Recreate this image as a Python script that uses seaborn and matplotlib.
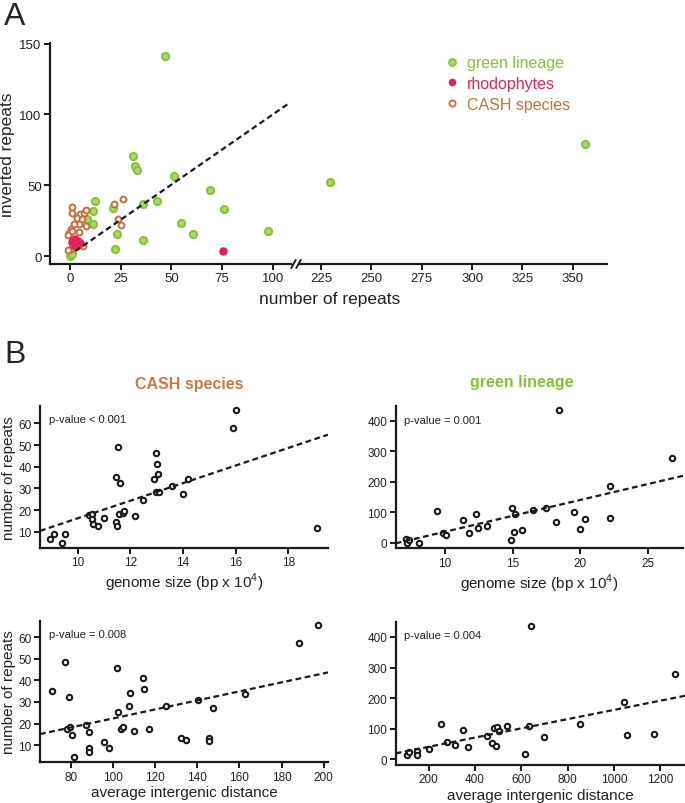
import numpy as np
import pandas as pd
import matplotlib.pyplot as plt
import seaborn as sns
from matplotlib.lines import Line2D

sns.set_theme(style='ticks')
plt.rcParams['font.family'] = ['Liberation Sans', 'DejaVu Sans']
plt.rcParams['mathtext.fontset'] = 'custom'
plt.rcParams['mathtext.rm'] = 'Liberation Sans'

# ============================================================
# DATA — panel A (number of repeats vs inverted repeats)
# ============================================================

green_reps = [46.9, 30.9, 31.8, 33.2, 51.0, 69.0, 42.7, 35.8, 12.0, 11.0, 11.0, 21.0,
              75.9, 54.8, 22.9, 60.7, 97.7, 36.0, 21.9, 8.1, 0.0, 1.0, 229.3, 355.9]
green_inv = [141.3, 70.6, 63.6, 61.0, 56.5, 46.4, 39.0, 36.5, 38.6, 31.8, 22.4, 34.1,
             33.4, 23.3, 15.3, 15.3, 17.4, 11.3, 5.2, 25.9, 0.0, 1.5, 52.3, 79.4]

rhodo_reps = [1.0, 2.5, 4.0, 2.0, 3.5, 5.0, 1.5, 75.6]
rhodo_inv = [10.0, 12.0, 10.5, 8.0, 7.5, 9.0, 11.5, 3.3]

cash_reps = [1.0, 1.0, 4.8, 6.6, 7.8, 3.3, 5.8, 4.5, 7.6, 2.1, 0.2, -0.5, -1.3, 4.5,
             0.3, 1.6, 6.1, -1.0, 21.8, 25.9, 23.4, 25.2, 0.8]
cash_inv = [35.0, 30.7, 29.8, 30.7, 32.6, 27.0, 26.5, 23.0, 21.4, 22.8, 19.0, 16.0, 14.8,
            16.7, 4.9, 7.3, 7.3, 4.4, 36.6, 40.5, 26.0, 22.0, 17.5]

# regression line in panel A (slope, intercept, x range)
fit_a = (0.99, 1.0)
fit_a_range = (2.5, 108.0)

# ============================================================
# DATA — panel B
# ============================================================

cash_genome = [8.95, 9.1, 9.42, 9.52, 10.44, 10.53, 10.53, 10.57, 10.76, 11.01, 11.47,
               11.53, 11.47, 11.5, 11.62, 11.57, 11.73, 11.76, 12.16, 12.49, 12.9,
               12.97, 13.0, 13.05, 12.97, 13.1, 13.59, 13.99, 14.18, 15.91, 16.01, 19.09]
cash_genome_reps = [6.6, 8.9, 4.8, 8.9, 17.7, 18.2, 15.8, 13.5, 12.7, 16.5, 35.4,
                    49.2, 14.6, 12.7, 32.3, 18.2, 18.5, 19.5, 17.2, 24.6, 34.3,
                    46.2, 41.3, 36.5, 28.2, 28.2, 31.2, 27.3, 34.2, 58.0, 66.2, 11.7]

green_genome = [7.13, 7.17, 7.37, 8.08, 9.41, 9.83, 10.07, 11.35, 11.77, 12.33, 12.41,
                13.1, 14.86, 14.94, 15.16, 15.14, 15.68, 16.49, 17.49, 18.2, 18.4,
                19.56, 19.98, 20.32, 22.24, 22.21, 26.78]
green_genome_reps = [13, 0, 10, 0, 105, 34, 27, 75, 33, 96, 49,
                     55, 10, 116, 95, 37, 42, 109, 116, 70, 434,
                     101, 47, 80, 187, 82, 279]

cash_igd = [71.3, 77.3, 79.4, 78.1, 79.7, 80.5, 81.6, 87.4, 88.5, 88.7, 88.8, 95.6,
            98.0, 101.8, 102.6, 107.8, 108.0, 103.7, 105.0, 110.2, 114.1, 114.9,
            117.1, 125.2, 132.3, 134.5, 140.2, 145.4, 145.6, 147.6, 162.8, 188.2, 197.4]
cash_igd_reps = [35.1, 48.7, 32.3, 17.4, 18.5, 14.6, 4.4, 19.4, 16.2, 8.8, 6.6, 11.5,
                 8.5, 45.9, 25.2, 28.3, 34.1, 17.3, 18.2, 16.3, 41.1, 36.0,
                 17.3, 28.1, 13.4, 12.2, 31.0, 13.3, 12.0, 27.0, 33.8, 57.5, 65.6]

green_igd = [106, 117, 148, 152, 202, 255, 281, 313, 347, 370, 452, 473, 480,
             491, 496, 503, 537, 616, 635, 642, 699, 855, 1043, 1057, 1174, 1264]
green_igd_reps = [14, 23, 28, 13, 34, 115, 57, 48, 95, 39, 77, 53, 101,
                  44, 107, 93, 110, 16, 108, 435, 73, 114, 189, 80, 82, 280]

# fitted lines (slope, intercept)
fit_cash_genome = (4.06, -24.4)
fit_green_genome = (10.4, -67.3)
fit_cash_igd = (0.2095, 1.38)
fit_green_igd = (0.1508, 10.85)

p_values = ['p-value < 0.001', 'p-value = 0.001', 'p-value = 0.008', 'p-value = 0.004']

# ============================================================
# STYLE
# ============================================================

GREEN = '#86c23a'
GREEN_FACE = '#a9d86a'
RED = '#e0245a'
BROWN = '#c5703b'
CASH_TITLE = '#c8794a'

W, H = 685, 804


def rect(left, top, right, bottom):
    return [left / W, 1 - bottom / H, (right - left) / W, (bottom - top) / H]


def style_axis(ax):
    sns.despine(ax=ax)
    for s in ['left', 'bottom']:
        ax.spines[s].set_linewidth(1.6)
        ax.spines[s].set_color('#1a1a1a')
    ax.tick_params(direction='out', length=4, width=1.4, labelsize=8.5,
                   color='#1a1a1a', labelcolor='#222222', pad=2)


fig = plt.figure(figsize=(W / 100, H / 100), dpi=100)

# ============================================================
# PANEL A — broken x axis made of two axes
# ============================================================

ax_a1 = fig.add_axes(rect(50, 44, 295, 265))
ax_a2 = fig.add_axes(rect(295, 44, 607, 265), sharey=ax_a1)

for ax in (ax_a1, ax_a2):
    sns.scatterplot(x=green_reps, y=green_inv, ax=ax, s=27, color=GREEN_FACE,
                    edgecolor=GREEN, linewidth=1.4, zorder=3, legend=False)
    sns.scatterplot(x=cash_reps, y=cash_inv, ax=ax, s=18, color='white',
                    edgecolor=BROWN, linewidth=1.4, zorder=4, legend=False)
    sns.scatterplot(x=rhodo_reps, y=rhodo_inv, ax=ax, s=38, color=RED,
                    linewidth=0, zorder=5, legend=False)
    style_axis(ax)

xs = np.array(fit_a_range)
sns.lineplot(x=xs, y=fit_a[0] * xs + fit_a[1], ax=ax_a1, color='#1a1a1a',
             lw=1.6, dashes=False, zorder=6)
ax_a1.lines[-1].set_dashes([2.6, 1.6])

ax_a1.set_xlim(-10, 111)
ax_a2.set_xlim(212, 367)
ax_a1.set_ylim(-5.6, 150.5)
ax_a1.set_xticks([0, 25, 50, 75, 100])
ax_a2.set_xticks([225, 250, 275, 300, 325, 350])
ax_a1.set_yticks([0, 50, 100, 150])
ax_a1.tick_params(labelsize=9.5)
ax_a2.tick_params(labelsize=9.5)
ax_a2.spines['left'].set_visible(False)
ax_a2.tick_params(axis='y', left=False, labelleft=False)
ax_a1.spines['bottom'].set_bounds(-10, 109)
ax_a2.spines['bottom'].set_bounds(214.5, 367)
ax_a1.set_ylabel('inverted repeats', fontsize=12.5, labelpad=3)

# break marks on the x axis
for cx in (293.5, 298.5):
    fig.add_artist(Line2D([(cx - 2.2) / W, (cx + 2.2) / W],
                          [1 - 269 / H, 1 - 261 / H],
                          transform=fig.transFigure, color='#1a1a1a', lw=1.4))

fig.text(330 / W, 1 - 300 / H, 'number of repeats', ha='center', va='center',
         fontsize=12.5, color='#222222')

handles = [
    Line2D([], [], marker='o', ls='', markersize=5, markerfacecolor=GREEN_FACE,
           markeredgecolor=GREEN, markeredgewidth=1.3),
    Line2D([], [], marker='o', ls='', markersize=5.5, markerfacecolor=RED,
           markeredgewidth=0),
    Line2D([], [], marker='o', ls='', markersize=4.5, markerfacecolor='white',
           markeredgecolor=BROWN, markeredgewidth=1.3),
]
labels = ['green lineage', 'rhodophytes', 'CASH species']
leg = fig.legend(handles, labels, loc='upper left',
                 bbox_to_anchor=(436 / W, 1 - 50 / H), frameon=False,
                 fontsize=11.5, handletextpad=0.35, labelspacing=0.35,
                 handlelength=1.2, borderaxespad=0)
for txt, col in zip(leg.get_texts(), [GREEN, RED, BROWN]):
    txt.set_color(col)

fig.text(4 / W, 1 - 2 / H, 'A', fontsize=23, va='top', ha='left')
fig.text(4 / W, 1 - 340 / H, 'B', fontsize=23, va='top', ha='left')

# ============================================================
# PANEL B — four regression scatters
# ============================================================

ax_b1 = fig.add_axes(rect(40, 407, 328, 549))
ax_b2 = fig.add_axes(rect(395.7, 407, 683, 549.3))
ax_b3 = fig.add_axes(rect(40, 621.7, 328, 763.3))
ax_b4 = fig.add_axes(rect(395.7, 622.7, 685, 766))

panels = [
    (ax_b1, cash_genome, cash_genome_reps, fit_cash_genome, (8.57, 19.5), (2.5, 68),
     [10, 12, 14, 16, 18], [10, 20, 30, 40, 50, 60]),
    (ax_b2, green_genome, green_genome_reps, fit_green_genome, (6.36, 27.6), (-17.4, 448),
     [10, 15, 20, 25], [0, 100, 200, 300, 400]),
    (ax_b3, cash_igd, cash_igd_reps, fit_cash_igd, (65.5, 202), (2, 67.7),
     [80, 100, 120, 140, 160, 180, 200], [10, 20, 30, 40, 50, 60]),
    (ax_b4, green_igd, green_igd_reps, fit_green_igd, (58, 1306), (-18.5, 450),
     [200, 400, 600, 800, 1000, 1200], [0, 100, 200, 300, 400]),
]

for (ax, x, y, fit, xlim, ylim, xt, yt), pv in zip(panels, p_values):
    sns.scatterplot(x=x, y=y, ax=ax, s=15, color='white', edgecolor='#1a1a1a',
                    linewidth=1.5, zorder=3, legend=False, clip_on=False)
    ax.axline((0, fit[1]), slope=fit[0], color='#1a1a1a', lw=1.6,
              dashes=[2.6, 1.6], zorder=4)
    ax.set_xlim(*xlim)
    ax.set_ylim(*ylim)
    ax.set_xticks(xt)
    ax.set_yticks(yt)
    style_axis(ax)
    ax.text(0.03, 0.905, pv, transform=ax.transAxes, fontsize=8, va='center',
            ha='left', color='#222222')

ax_b1.set_ylabel('number of repeats', fontsize=11, labelpad=2, color='#222222')
ax_b3.set_ylabel('number of repeats', fontsize=11, labelpad=2, color='#222222')
ax_b1.set_xlabel('genome size (bp x 10$^4$)', fontsize=11, labelpad=2, color='#222222')
ax_b2.set_xlabel('genome size (bp x 10$^4$)', fontsize=11, labelpad=2, color='#222222')
ax_b3.set_xlabel('average intergenic distance', fontsize=11, labelpad=2, color='#222222')
ax_b4.set_xlabel('average intergenic distance', fontsize=11, labelpad=2, color='#222222')

ax_b1.text(0.517, 1.155, 'CASH species', transform=ax_b1.transAxes, fontsize=11.5,
           fontweight='bold', color=CASH_TITLE, ha='center', va='center')
ax_b2.text(0.44, 1.17, 'green lineage', transform=ax_b2.transAxes, fontsize=11.5,
           fontweight='bold', color=GREEN, ha='center', va='center')

fig.savefig('out.png', dpi=100)
